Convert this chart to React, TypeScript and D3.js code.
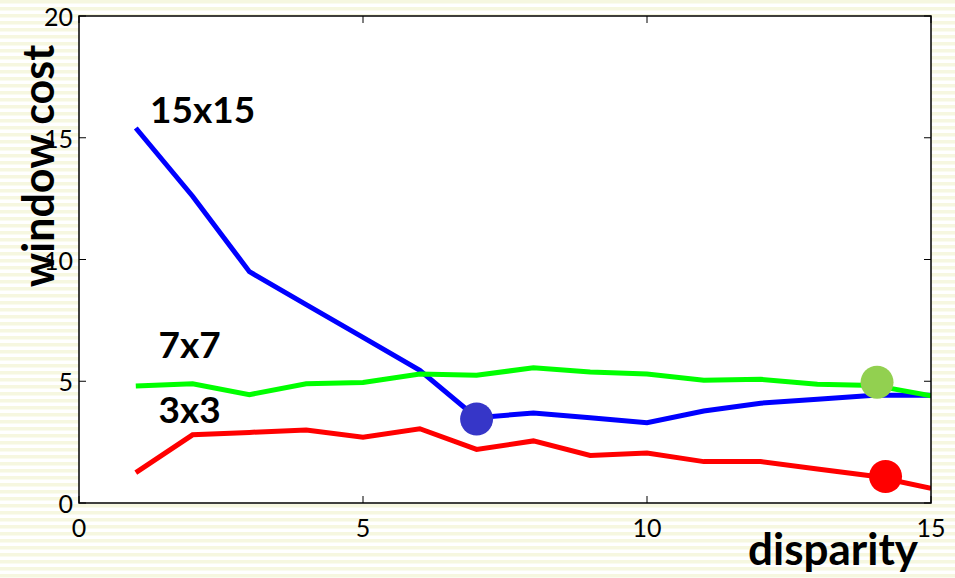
import React from "react";
import * as d3 from "d3";

const disparity = [1, 2, 3, 4, 5, 6, 7, 8, 9, 10, 11, 12, 13, 14, 15];
const cost15 = [15.4, 12.6, 9.5, 8.15, 6.8, 5.45, 3.5, 3.7, 3.5, 3.3, 3.78, 4.1, 4.26, 4.42, 4.42];
const cost7 = [4.8, 4.9, 4.45, 4.9, 4.95, 5.3, 5.25, 5.55, 5.38, 5.3, 5.04, 5.08, 4.88, 4.83, 4.4];
const cost3 = [1.25, 2.8, 2.9, 3.0, 2.7, 3.05, 2.2, 2.55, 1.95, 2.05, 1.7, 1.7, 1.4, 1.1, 0.6];
const xTicks = [0, 5, 10, 15];
const yTicks = [0, 5, 10, 15, 20];
const seriesNames = ["15x15", "7x7", "3x3"];
const markers = [
  { x: 7, y: 3.45 },
  { x: 14.05, y: 4.96 },
  { x: 14.2, y: 1.09 },
];

export default function App() {
  const W = 955, H = 578;
  const left = 79, right = 931, top = 16, bottom = 503;
  const x = d3.scaleLinear().domain([0, 15]).range([left, right]);
  const y = d3.scaleLinear().domain([0, 20]).range([bottom, top]);
  const line = d3.line<number>().x((_, i) => x(disparity[i])).y((d) => y(d));
  const font = "Lato, 'Open Sans', sans-serif";
  const series = [
    { vals: cost15, color: "#0000ff" },
    { vals: cost7, color: "#00ff00" },
    { vals: cost3, color: "#ff0000" },
  ];
  const markerColors = ["#3636c8", "#92d050", "#ff0000"];
  const labelPos = [
    { x: 1.25, y: 15.6 },
    { x: 1.4, y: 5.95 },
    { x: 1.4, y: 3.28 },
  ];
  const tl = 7;
  return (
    <svg width={W} height={H} style={{ position: "absolute", left: 0, top: 0 }}>
      <defs>
        <pattern id="stripes" width="8" height="7" patternUnits="userSpaceOnUse">
          <rect width="8" height="7" fill="#ffffff" />
          <rect width="8" height="3.5" fill="#f6f7e0" />
        </pattern>
        <clipPath id="plotclip">
          <rect x={left} y={top} width={right - left} height={bottom - top} />
        </clipPath>
      </defs>
      <rect width={W} height={H} fill="url(#stripes)" />
      <rect x={left} y={top} width={right - left} height={bottom - top} fill="#ffffff" />
      <g clipPath="url(#plotclip)">
        {series.map((s, i) => (
          <path key={i} d={line(s.vals) || ""} fill="none" stroke={s.color} strokeWidth={5} strokeLinejoin="miter" />
        ))}
      </g>
      {markers.map((m, i) => (
        <circle key={i} cx={x(m.x)} cy={y(m.y)} r={16.5} fill={markerColors[i]} />
      ))}
      <rect x={left} y={top} width={right - left} height={bottom - top} fill="none" stroke="#000" strokeWidth={1.5} />
      {yTicks.map((t) => (
        <g key={"y" + t}>
          <line x1={left} x2={left + tl} y1={y(t)} y2={y(t)} stroke="#000" />
          <line x1={right} x2={right - tl} y1={y(t)} y2={y(t)} stroke="#000" />
          <text x={left - 6} y={y(t) + 10} textAnchor="end" fontFamily={font} fontSize={25} fill="#000">{t}</text>
        </g>
      ))}
      {xTicks.map((t) => (
        <g key={"x" + t}>
          <line x1={x(t)} x2={x(t)} y1={bottom} y2={bottom - tl} stroke="#000" />
          <line x1={x(t)} x2={x(t)} y1={top} y2={top + tl} stroke="#000" />
          <text x={x(t)} y={bottom + 34} textAnchor="middle" fontFamily={font} fontSize={25} fill="#000">{t}</text>
        </g>
      ))}
      {seriesNames.map((n, i) => (
        <text key={n} x={x(labelPos[i].x)} y={y(labelPos[i].y)} fontFamily={font} fontWeight="bold" fontSize={37} fill="#000">{n}</text>
      ))}
      <text transform="translate(54,166) rotate(-90)" textAnchor="middle" fontFamily={font} fontWeight="bold" fontSize={43} fill="#000">window cost</text>
      <text x={918} y={565} textAnchor="end" fontFamily={font} fontWeight="bold" fontSize={44} fill="#000">disparity</text>
    </svg>
  );
}
